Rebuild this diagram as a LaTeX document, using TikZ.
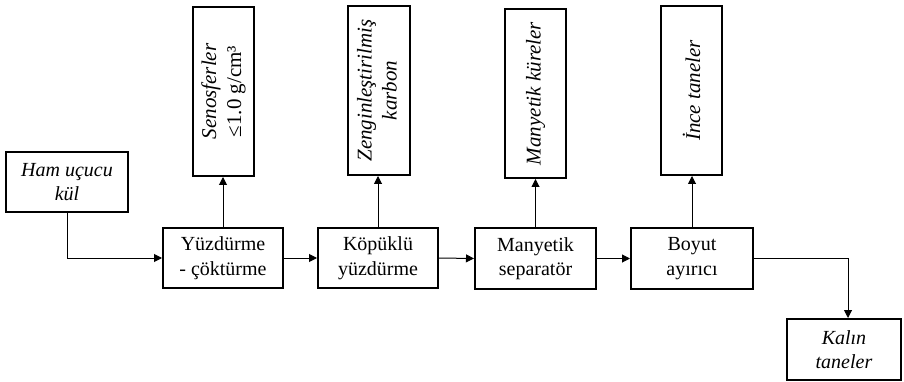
\documentclass[tikz,border=0pt]{standalone}
\usepackage{fontspec}
\setmainfont{Liberation Serif}
\usetikzlibrary{arrows.meta}
\begin{document}
\begin{tikzpicture}[x=1pt,y=-1pt,
  box/.style={draw, line width=2pt, rectangle, inner sep=0pt, align=center,
    font=\fontsize{20}{24.5}\selectfont},
  hbox/.style={box, minimum height=60pt},
  vbox/.style={box, minimum height=169pt, minimum width=61pt,
    font=\fontsize{21}{25}\selectfont},
  conn/.style={line width=1pt, -{Triangle[length=8pt,width=8pt]}}]
\useasboundingbox (0,0) rectangle (904,382);
\node[hbox, minimum width=122pt] (ham) at (67,182) {\itshape Ham uçucu\\\itshape kül};
\node[hbox, minimum width=120pt] (yuz) at (223,258) {Yüzdürme\\- çöktürme};
\node[hbox, minimum width=120pt] (kop) at (378,258) {Köpüklü\\yüzdürme};
\node[hbox, minimum width=121pt, minimum height=61pt] (man) at (535.5,258.5) {Manyetik\\separatör};
\node[hbox, minimum width=122pt, minimum height=61pt] (boy) at (692,258.5) {Boyut\\ayırıcı};
\node[hbox, minimum width=114pt, minimum height=61pt] (kal) at (844,349.5) {\itshape Kalın\\\itshape taneler};
\node[vbox] (sen) at (223.5,91.5) {\rotatebox{90}{\begin{tabular}{@{}c@{}}\itshape Senosferler\\≤1.0 g/cm³\end{tabular}}};
\node[vbox, minimum width=62pt] (zen) at (379,90.5) {\rotatebox{90}{\begin{tabular}{@{}c@{}}\itshape Zenginleştirilmiş\\\itshape karbon\end{tabular}}};
\node[vbox] (mk) at (535.5,93.5) {\rotatebox{90}{\itshape Manyetik küreler}};
\node[vbox] (ince) at (691.5,90.5) {\rotatebox{90}{\itshape İnce taneler}};
\draw[conn] (ham.south) |- (yuz.west);
\draw[conn] (yuz.east) -- (kop.west);
\draw[conn] (kop.east) -- (man.west);
\draw[conn] (man.east) -- (boy.west);
\draw[conn] (boy.east) -| ([xshift=4pt]kal.north);
\draw[conn] (yuz.north) -- (yuz.north |- sen.south);
\draw[conn] (kop.north) -- (kop.north |- zen.south);
\draw[conn] (man.north) -- (man.north |- mk.south);
\draw[conn] (boy.north) -- (boy.north |- ince.south);
\end{tikzpicture}
\end{document}
